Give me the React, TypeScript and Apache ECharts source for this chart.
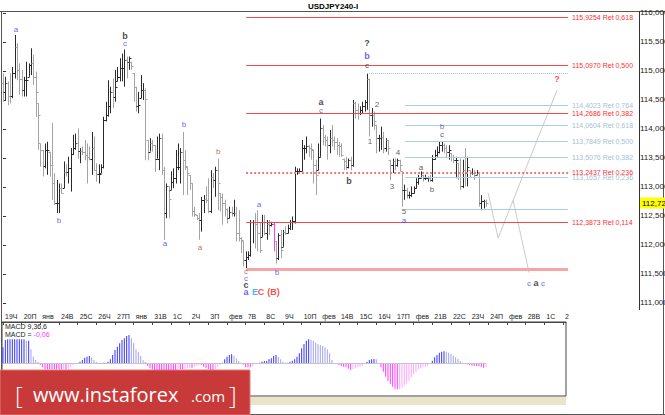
import React, { useEffect, useRef } from 'react';
import * as echarts from 'echarts';

// ---- OHLC bars (4h), index 0..207 ----
const highs = [
  114.96,114.90,114.82,114.96,115.07,115.62,115.48,115.13,115.02,114.90,
  115.16,115.13,115.39,115.28,114.99,114.44,113.75,113.64,113.75,113.78,
  113.61,114.10,113.24,113.12,113.06,113.06,113.44,113.39,113.52,113.67,
  113.90,113.92,114.01,113.67,113.70,113.81,113.75,113.70,113.95,113.87,
  113.41,113.39,113.39,114.21,114.47,114.84,114.73,114.87,115.02,115.07,
  115.22,115.30,115.37,115.25,115.25,115.16,114.96,114.73,114.64,114.93,
  114.79,114.70,113.81,113.84,113.81,113.72,113.87,113.92,113.92,113.35,
  113.06,113.01,113.27,113.32,113.64,113.75,113.67,113.95,113.64,113.35,
  113.21,113.06,112.66,112.52,112.55,112.83,112.86,113.01,113.15,113.29,
  113.24,113.35,113.49,112.89,112.89,112.78,112.63,112.66,112.66,112.78,
  112.66,112.60,112.14,112.06,111.89,111.89,112.43,112.43,112.55,112.60,
  112.40,112.52,112.52,112.43,112.43,112.40,112.40,112.06,112.20,112.26,
  112.26,112.32,112.35,112.43,112.49,113.35,113.32,113.32,113.81,113.72,
  113.87,113.72,113.75,113.64,113.47,113.75,114.18,114.07,113.90,113.87,
  113.98,114.07,113.87,113.84,113.78,113.75,113.49,113.52,113.49,113.52,
  114.50,114.47,114.44,114.39,114.47,114.50,114.96,114.87,114.36,114.30,
  114.07,113.90,114.04,113.95,113.84,113.81,113.47,113.49,113.49,113.49,
  113.47,113.27,113.04,112.98,112.92,113.01,113.01,113.15,113.21,113.27,
  113.21,113.21,113.18,113.21,113.55,113.64,113.70,113.78,113.78,113.75,
  113.72,113.72,113.58,113.55,113.52,113.41,113.49,113.47,113.67,113.52,
  113.29,113.32,113.29,113.29,113.24,112.86,112.78,112.78,
];
const lows = [
  114.47,114.50,114.41,114.44,114.53,114.87,114.84,114.59,114.56,114.56,
  114.56,114.90,114.93,114.76,114.21,113.64,113.35,113.18,113.32,113.21,
  113.18,112.78,112.69,112.55,112.55,112.89,112.98,113.18,113.06,112.92,
  113.55,113.64,113.49,113.41,113.55,113.46,113.06,113.46,113.21,113.29,
  113.09,113.06,113.24,113.32,114.13,114.21,114.27,114.36,114.47,114.82,
  114.82,114.82,114.73,114.87,115.02,115.02,114.47,114.30,114.27,114.53,
  114.50,113.46,113.46,113.61,113.61,113.26,113.49,113.29,113.21,112.09,
  112.46,112.46,112.95,112.98,113.06,113.29,113.06,112.86,113.29,112.86,
  112.95,112.49,112.49,112.43,112.09,112.23,112.55,112.72,112.55,112.55,
  112.98,112.83,112.60,112.58,112.35,112.49,112.37,112.46,112.49,112.49,
  112.06,112.06,111.86,111.63,111.60,111.74,111.80,112.03,111.94,111.89,
  111.86,112.14,112.17,112.09,112.17,112.32,111.89,111.68,111.74,111.77,
  111.97,112.17,112.20,112.26,112.26,112.37,113.21,113.24,113.27,113.47,
  113.58,113.52,113.47,113.06,112.86,113.29,113.52,113.72,113.70,113.47,
  113.58,113.70,113.64,113.55,113.52,113.52,113.29,113.29,113.32,113.29,
  113.35,114.18,114.16,114.24,114.27,114.30,114.33,113.87,114.04,113.98,
  113.58,113.61,113.64,113.58,113.61,113.55,113.12,113.24,113.29,113.35,
  113.27,112.66,112.78,112.80,112.80,112.83,112.89,112.98,113.04,113.15,
  113.09,113.12,113.09,113.09,113.09,113.47,113.52,113.58,113.61,113.58,
  113.52,113.47,113.44,113.41,113.15,113.12,112.95,112.98,113.01,113.01,
  113.15,113.21,113.12,113.21,112.66,112.60,112.63,112.66,
];
const opens = [
  114.80,114.64,114.79,114.57,114.56,114.96,115.42,115.02,114.86,114.68,
  114.84,114.90,115.10,115.13,114.90,114.44,113.75,113.64,113.36,113.64,
  113.61,113.38,113.06,112.72,112.72,112.98,112.98,113.26,113.25,113.32,
  113.57,113.67,113.76,113.62,113.62,113.61,113.55,113.52,113.48,113.68,
  113.29,113.22,113.24,113.35,114.16,114.24,114.39,114.64,114.55,114.82,
  114.89,115.05,115.05,115.19,115.16,115.16,114.96,114.73,114.39,114.53,
  114.67,114.67,113.81,113.61,113.75,113.72,113.49,113.49,113.84,113.29,
  112.55,113.01,112.95,113.09,113.15,113.34,113.35,113.61,113.47,113.35,
  113.21,113.06,112.58,112.52,112.46,112.43,112.78,112.80,112.78,112.58,
  113.18,113.12,113.29,112.89,112.83,112.72,112.62,112.46,112.56,112.55,
  112.55,112.20,112.12,112.06,111.74,111.80,111.83,112.40,112.40,112.37,
  112.20,112.14,112.40,112.20,112.37,112.35,112.37,112.06,111.77,112.17,
  111.97,112.23,112.21,112.29,112.40,112.42,113.27,113.27,113.27,113.67,
  113.67,113.70,113.67,113.64,113.38,113.29,113.52,114.01,113.87,113.81,
  113.72,113.84,113.81,113.78,113.72,113.70,113.49,113.44,113.35,113.47,
  113.38,114.44,114.33,114.27,114.33,114.39,114.47,114.87,114.24,114.24,
  114.07,113.84,113.84,113.87,113.67,113.81,113.47,113.38,113.44,113.38,
  113.47,113.27,112.95,112.95,112.86,112.86,112.89,112.98,113.09,113.15,
  113.21,113.15,113.15,113.15,113.12,113.49,113.55,113.61,113.72,113.72,
  113.67,113.61,113.58,113.52,113.47,113.41,113.18,113.01,113.29,113.24,
  113.29,113.24,113.24,113.21,113.24,112.72,112.75,112.75,
];
const closes = [
  114.64,114.79,114.57,114.56,114.96,115.42,115.02,114.86,114.68,114.84,
  114.84,115.10,115.13,114.90,114.64,114.24,113.64,113.36,113.64,113.64,
  113.38,113.06,112.72,112.72,112.98,112.90,113.26,113.25,113.32,113.57,
  113.67,113.76,113.62,113.62,113.61,113.55,113.52,113.48,113.68,113.29,
  113.22,113.22,113.35,114.16,114.24,114.39,114.64,114.55,114.73,114.89,
  115.05,115.05,115.19,115.16,115.22,115.09,114.73,114.39,114.41,114.67,
  114.67,114.51,113.61,113.75,113.72,113.49,113.49,113.84,113.29,112.55,
  113.01,112.80,113.09,113.15,113.34,113.35,113.61,113.47,113.36,113.24,
  113.07,112.58,112.53,112.46,112.43,112.78,112.80,112.78,112.58,113.18,
  113.12,113.29,113.06,112.83,112.72,112.62,112.46,112.56,112.55,112.55,
  112.20,112.12,112.09,111.74,111.80,111.83,112.40,112.40,112.37,112.20,
  111.92,112.40,112.20,112.37,112.35,112.37,112.06,111.77,112.17,111.92,
  112.23,112.21,112.29,112.40,112.42,113.27,113.27,113.27,113.67,113.67,
  113.70,113.67,113.65,113.38,113.21,113.52,114.01,113.87,113.81,113.72,
  113.84,113.81,113.78,113.72,113.70,113.55,113.44,113.35,113.47,113.38,
  114.44,114.33,114.27,114.33,114.39,114.47,114.87,114.24,114.24,114.13,
  113.84,113.84,113.87,113.67,113.81,113.67,113.38,113.44,113.38,113.47,
  113.38,112.95,112.95,112.86,112.86,112.89,112.98,113.09,113.15,113.21,
  113.15,113.15,113.15,113.12,113.49,113.55,113.61,113.72,113.72,113.67,
  113.61,113.64,113.52,113.47,113.47,113.18,113.01,113.29,113.24,113.35,
  113.24,113.24,113.21,113.24,112.72,112.75,112.75,112.72,
];
const highlightBar = 116;

// ---- MACD histogram ----
const macd = [
  0.24,0.35,0.36,0.36,0.36,0.36,0.36,0.36,0.36,0.36,
  0.34,0.34,0.21,0.10,0.05,0.02,-0.025,-0.06,-0.09,-0.09,
  -0.09,-0.09,-0.09,-0.09,-0.09,-0.09,-0.08,-0.09,-0.08,-0.06,
  -0.03,-0.005,-0.01,0.025,0.05,0.085,0.10,0.11,0.09,0.05,
  0.025,0.01,-0.01,0.01,0.005,0.025,0.06,0.125,0.20,0.25,
  0.30,0.35,0.375,0.41,0.425,0.375,0.31,0.21,0.175,0.11,
  0.05,0.025,-0.04,-0.075,-0.09,-0.10,-0.10,-0.10,-0.10,-0.10,
  -0.10,-0.10,-0.10,-0.10,-0.10,-0.09,-0.09,-0.09,-0.08,-0.075,
  -0.065,-0.065,-0.05,-0.04,-0.025,-0.025,-0.05,-0.075,-0.09,-0.10,
  -0.10,-0.09,-0.05,-0.02,0.01,0.06,0.10,0.125,0.135,0.115,
  0.075,0.04,0.01,-0.02,-0.06,-0.06,-0.06,-0.04,-0.01,0.005,
  0.01,0.025,0.035,0.035,0.06,0.075,0.11,0.125,0.10,0.06,
  0.025,0.01,0.01,0.025,0.04,0.06,0.10,0.15,0.225,0.29,
  0.34,0.36,0.35,0.34,0.31,0.29,0.275,0.26,0.24,0.21,
  0.15,0.05,0.0,-0.01,-0.025,-0.04,-0.05,-0.06,-0.08,-0.10,
  -0.09,-0.075,-0.06,-0.05,-0.04,-0.01,0.025,0.05,0.06,0.065,
  0.06,0.0,-0.06,-0.125,-0.20,-0.265,-0.315,-0.35,-0.38,-0.39,
  -0.385,-0.365,-0.335,-0.30,-0.26,-0.21,-0.165,-0.125,-0.09,-0.07,
  -0.06,-0.05,-0.035,-0.01,0.04,0.09,0.125,0.16,0.175,0.18,
  0.175,0.16,0.14,0.115,0.09,0.065,0.035,0.01,-0.005,-0.015,
  -0.025,-0.035,-0.035,-0.04,-0.045,-0.05,-0.065,-0.06,
];
const macdLast = '-0,06';

// ---- axes ----
const dayLabels = ['19Ч','20П','янв','24В','25С','26Ч','27П','янв','31В','1С','2Ч','3П','фев','7В','8С','9Ч','10П','фев','14В','15С','16Ч','17П','фев','21В','22С','23Ч','24П','фев','28В','1С','2'];
const barsPerLabel = 8;
const priceTicks = [111, 111.5, 112, 112.5, 113, 113.5, 114, 114.5, 115, 115.5, 116];
const lastPrice = 112.723;

// ---- Fibonacci levels ----
const redLevels = [
  { price: 115.9254, ratio: '0,618' },
  { price: 115.0970, ratio: '0,500' },
  { price: 114.2686, ratio: '0,382' },
  { price: 113.2437, ratio: '0,236' },
  { price: 112.3873, ratio: '0,114' },
];
const redZero = 111.587;
const redStartBar = 104.2;
const blueLevels = [
  { price: 114.4023, ratio: '0,764' },
  { price: 114.0604, ratio: '0,618' },
  { price: 113.7849, ratio: '0,500' },
  { price: 113.5076, ratio: '0,382' },
  { price: 113.1657, ratio: '0,236' },
];
const blueTop = 114.955;
const blueTopStartBar = 156;
const blueZero = 112.615;
const blueStartBar = 172.3;
const fibEndBar = 242.2;

// ---- projection paths ----
const projA = [[207.9, 112.90], [212.2, 112.12], [237.5, 114.67]];
const projB = [[218.6, 112.78], [225.5, 111.52]];

// ---- wave labels: text, bar, price, colour key, bold ----
const waveLabels: [string, number, number, string, boolean][] = [
  ['a', 5.6, 115.71, 'blue', false],
  ['b', 52.3, 115.60, 'black', true],
  ['c', 52.3, 115.48, 'blue', false],
  ['b', 24, 112.43, 'blue', false],
  ['a', 69.4, 112.03, 'blue', false],
  ['b', 77.6, 114.07, 'blue', false],
  ['a', 84.4, 111.95, 'brown', false],
  ['b', 92.2, 113.62, 'brown', false],
  ['a', 109.7, 112.69, 'blue', false],
  ['b', 117.4, 111.52, 'blue', false],
  ['c', 104.2, 111.55, 'brown', false],
  ['c', 104.2, 111.43, 'blue', false],
  ['c', 104.2, 111.31, 'black', true],
  ['a', 104.2, 111.19, 'blue', true],
  ['E', 108.0, 111.19, 'cyan', true],
  ['C', 110.6, 111.19, 'red', true],
  ['(B)', 115.9, 111.19, 'red', true],
  ['a', 136.3, 114.47, 'black', true],
  ['c', 136.3, 114.31, 'blue', false],
  ['b', 148.3, 113.10, 'black', true],
  ['?', 156, 115.48, 'black', true],
  ['b', 156, 115.26, 'blue', true],
  ['c', 156, 115.10, 'black', false],
  ['2', 160.3, 114.43, 'dark', false],
  ['1', 157.3, 113.78, 'dark', false],
  ['4', 169.3, 113.60, 'dark', false],
  ['3', 166.7, 113.00, 'dark', false],
  ['5', 171.9, 112.57, 'dark', false],
  ['a', 171.9, 112.43, 'blue', false],
  ['a', 179.2, 113.34, 'dark', false],
  ['b', 183.9, 112.95, 'dark', false],
  ['c', 188.2, 113.90, 'dark', false],
  ['b', 188.2, 114.05, 'blue', false],
  ['?', 237.5, 114.86, 'red', true],
  ['c', 225.5, 111.34, 'blue', false],
  ['a', 228.5, 111.34, 'black', true],
  ['c', 231.4, 111.34, 'blue', false],
];

const waveColors: Record<string, string> = {
  blue: '#3a3aff', black: '#141414', brown: '#b4473c', red: '#ff2020', cyan: '#1aa3e8', dark: '#333333',
};

const FONT = '"Liberation Sans", "DejaVu Sans", Arial, sans-serif';
const XMIN = -0.43;
const fmt = (v: number, d: number) => v.toFixed(d).replace('.', ',');

export default function App() {
  const ref = useRef<HTMLDivElement>(null);
  useEffect(() => {
    if (!ref.current) return;
    const chart = echarts.init(ref.current, undefined, { renderer: 'svg' });

    const ohlcData = highs.map((h, i) => [i, opens[i], closes[i], lows[i], h]);

    const fibLines: any[] = [];
    redLevels.forEach((l) => {
      const is236 = l.ratio === '0,236';
      fibLines.push([
        {
          coord: [redStartBar, l.price],
          lineStyle: { color: is236 ? '#f07a7a' : '#f04a4a', width: is236 ? 2 : 1, type: is236 ? 'dotted' : 'solid' },
          label: { show: true, position: 'end', distance: 4, formatter: fmt(l.price, 4) + ' Ret ' + l.ratio, color: '#ff3030', fontSize: 7, fontFamily: FONT },
        },
        { coord: [fibEndBar, l.price] },
      ]);
    });
    fibLines.push([
      { coord: [redStartBar, redZero], lineStyle: { color: '#f5a5a5', width: 3, type: 'solid' }, label: { show: false } },
      { coord: [fibEndBar, redZero] },
    ]);
    blueLevels.forEach((l) => {
      fibLines.push([
        {
          coord: [blueStartBar, l.price],
          lineStyle: { color: '#a8cfe0', width: 1, type: 'solid' },
          label: { show: true, position: 'end', distance: 4, formatter: fmt(l.price, 4) + ' Ret ' + l.ratio, color: '#a4c2d2', fontSize: 7, fontFamily: FONT },
        },
        { coord: [fibEndBar, l.price] },
      ]);
    });
    fibLines.push([
      { coord: [blueTopStartBar, blueTop], lineStyle: { color: '#a8c6d4', width: 1, type: 'dotted' }, label: { show: false } },
      { coord: [fibEndBar, blueTop] },
    ]);
    fibLines.push([
      { coord: [blueStartBar, blueZero], lineStyle: { color: '#a8cfe0', width: 1, type: 'solid' }, label: { show: false } },
      { coord: [fibEndBar, blueZero] },
    ]);

    const macdData = macd.map((v, i) => {
      const prev = i > 0 ? macd[i - 1] : v;
      let color;
      if (v >= 0) color = v >= prev ? '#3535ff' : '#a3a3f2';
      else color = v <= prev ? '#ff3cff' : '#ffa6ff';
      return { value: [i, v], itemStyle: { color } };
    });

    const labelTicks = dayLabels.map((_, k) => k * barsPerLabel);

    const option: any = {
      animation: false,
      backgroundColor: '#ffffff',
      grid: [
        { left: 2, top: 11, width: 637, height: 299, show: false, containLabel: false, outerBoundsMode: 'none' },
        { left: 2, top: 322, width: 564, height: 74, show: true, borderColor: '#444', borderWidth: 1, backgroundColor: '#fff', containLabel: false, outerBoundsMode: 'none' },
        { left: 2, top: 311, width: 564, height: 11, show: false, containLabel: false, outerBoundsMode: 'none' },
      ],
      xAxis: [
        { gridIndex: 0, type: 'value', min: XMIN, max: 272.6, show: false },
        { gridIndex: 1, type: 'value', min: XMIN, max: 241.3, show: false },
        {
          gridIndex: 2, type: 'value', min: XMIN, max: 241.3, position: 'top',
          axisLine: { show: true, lineStyle: { color: '#444', width: 1 } },
          axisTick: { show: true, inside: true, length: 3, customValues: labelTicks, lineStyle: { color: '#444' } },
          axisLabel: {
            show: true, inside: true, customValues: labelTicks, margin: 2,
            formatter: (v: number) => dayLabels[Math.round(v / barsPerLabel)] ?? '',
            fontSize: 7, color: '#222', fontFamily: FONT, align: 'left', padding: [0, 0, 0, 2], verticalAlign: 'top',
          },
          splitLine: { show: false },
        },
      ],
      yAxis: [
        {
          gridIndex: 0, type: 'value', position: 'right', min: 110.879, max: 116.034,
          axisLine: { show: false },
          axisTick: { show: true, length: 3, customValues: priceTicks, lineStyle: { color: '#333' } },
          axisLabel: {
            show: true, customValues: [...priceTicks, lastPrice], margin: 1,
            formatter: (v: number) => (Math.abs(v - lastPrice) < 1e-6 ? '{cur|' + fmt(v, 3) + '}' : fmt(v, 3)),
            fontSize: 8, color: '#222', fontFamily: FONT,
            rich: { cur: { backgroundColor: '#ffff00', color: '#000', fontSize: 8, fontFamily: FONT, padding: [2, 2, 1, 2] } },
          },
          splitLine: { show: false },
        },
        { gridIndex: 1, type: 'value', min: -0.49, max: 0.62, show: false },
        { gridIndex: 2, type: 'value', show: false },
      ],
      series: [
        {
          type: 'custom', xAxisIndex: 0, yAxisIndex: 0, data: ohlcData,
          encode: { x: 0, y: [1, 2, 3, 4] },
          renderItem: (params: any, api: any) => {
            const i = api.value(0);
            const o = api.value(1), c = api.value(2), l = api.value(3), h = api.value(4);
            const pt = api.coord([i, h]);
            const pb = api.coord([i, l]);
            const po = api.coord([i, o]);
            const pc = api.coord([i, c]);
            const x = Math.round(pt[0]) + 0.5;
            let color = c >= o ? '#2a2a2a' : '#a4a4a4';
            if (i === highlightBar) color = '#ff3cff';
            const st = { stroke: color, lineWidth: 1 };
            const yo = Math.round(po[1]) + 0.5;
            const yc = Math.round(pc[1]) + 0.5;
            return {
              type: 'group',
              children: [
                { type: 'line', shape: { x1: x, y1: pt[1], x2: x, y2: pb[1] }, style: st },
                { type: 'line', shape: { x1: x - 2, y1: yo, x2: x, y2: yo }, style: st },
                { type: 'line', shape: { x1: x, y1: yc, x2: x + 2, y2: yc }, style: st },
              ],
            };
          },
          z: 3,
        },
        {
          type: 'line', xAxisIndex: 0, yAxisIndex: 0, data: projA, symbol: 'none',
          lineStyle: { color: '#cacaca', width: 1 }, z: 2,
          markLine: { silent: true, symbol: ['none', 'none'], animation: false, label: { show: false }, data: fibLines },
        },
        {
          type: 'line', xAxisIndex: 0, yAxisIndex: 0, data: projB, symbol: 'none',
          lineStyle: { color: '#cacaca', width: 1 }, z: 2,
        },
        {
          type: 'scatter', xAxisIndex: 0, yAxisIndex: 0, symbolSize: 1,
          itemStyle: { color: 'rgba(0,0,0,0)' }, z: 5,
          data: waveLabels.map(([t, i, p, c, b]) => ({
            value: [i, p], name: t,
            label: {
              show: true, position: 'inside', formatter: t, color: waveColors[c],
              fontWeight: b ? 'bold' : 'normal', fontSize: b ? 9 : 8, fontFamily: FONT,
            },
          })),
        },
        {
          type: 'bar', xAxisIndex: 1, yAxisIndex: 1, data: macdData, barWidth: 1,
          markLine: {
            silent: true, symbol: ['none', 'none'], animation: false, label: { show: false },
            lineStyle: { color: '#c4c4c4', width: 1, type: 'solid' },
            data: [[{ coord: [0, 0] }, { coord: [macd.length - 1, 0] }]],
          },
        },
      ],
      graphic: [
        { type: 'text', x: 333, y: 6, style: { text: 'USDJPY240-I', fontSize: 8, fontWeight: 'bold', fontFamily: FONT, fill: '#000', align: 'center', verticalAlign: 'middle' } },
        { type: 'line', shape: { x1: 0, y1: 11.5, x2: 665, y2: 11.5 }, style: { stroke: '#555', lineWidth: 1 } },
        { type: 'line', shape: { x1: 1.5, y1: 11, x2: 1.5, y2: 415 }, style: { stroke: '#555', lineWidth: 1 } },
        { type: 'line', shape: { x1: 663.5, y1: 11, x2: 663.5, y2: 415 }, style: { stroke: '#555', lineWidth: 1 } },
        { type: 'line', shape: { x1: 0, y1: 414.5, x2: 665, y2: 414.5 }, style: { stroke: '#555', lineWidth: 1 } },
        { type: 'line', shape: { x1: 639.5, y1: 11, x2: 639.5, y2: 310 }, style: { stroke: '#333', lineWidth: 1 } },
        { type: 'rect', shape: { x: 2, y: 397, width: 564, height: 8 }, style: { fill: '#e9e4ca' } },
        { type: 'text', x: 5, y: 323, style: { text: 'MACD 9,36,6', fontSize: 7, fontFamily: FONT, fill: '#222' } },
        { type: 'text', x: 5, y: 331, style: { text: 'MACD = {m|' + macdLast + '}', fontSize: 7, fontFamily: FONT, fill: '#222', rich: { m: { fontSize: 7, fontFamily: FONT, fill: '#ff30ff', color: '#ff30ff' } } } },
        {
          type: 'group', z: 100, children: [
            { type: 'rect', shape: { x: 0, y: 370, width: 250, height: 45 }, style: { fill: '#c83a3a', stroke: '#e27c7c', lineWidth: 1 } },
            { type: 'text', x: 15, y: 394, style: { text: '[', fontSize: 24, fontWeight: 300, fontFamily: '"Open Sans", sans-serif', fill: '#fff', verticalAlign: 'middle' } },
            { type: 'text', x: 33, y: 404, style: { text: 'www.instaforex', fontSize: 20, fontFamily: '"Open Sans", sans-serif', fill: '#fff', verticalAlign: 'bottom' } },
            { type: 'text', x: 191, y: 403, style: { text: '.com', fontSize: 15, fontFamily: '"Open Sans", sans-serif', fill: '#fff', verticalAlign: 'bottom' } },
            { type: 'text', x: 229, y: 394, style: { text: ']', fontSize: 24, fontWeight: 300, fontFamily: '"Open Sans", sans-serif', fill: '#fff', verticalAlign: 'middle' } },
          ],
        },
      ],
    };

    chart.setOption(option);
    return () => chart.dispose();
  }, []);

  return <div ref={ref} style={{ position: 'fixed', left: 0, top: 0, width: 665, height: 415, background: '#fff' }} />;
}
